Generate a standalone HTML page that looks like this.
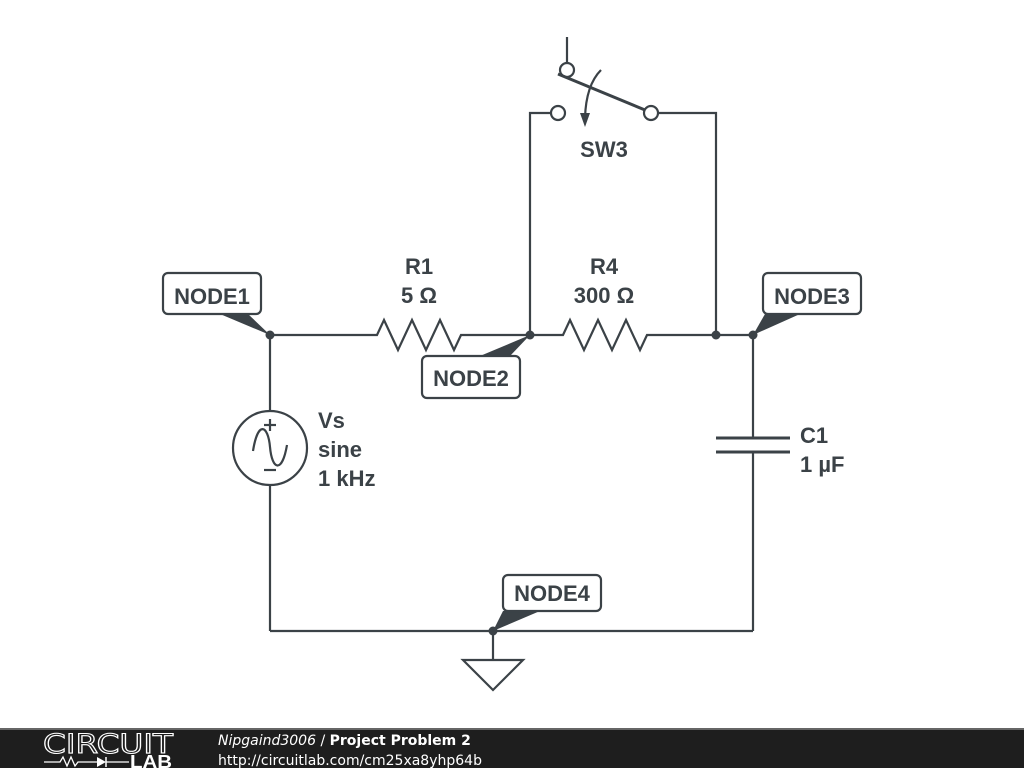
<!DOCTYPE html>
<html><head><meta charset="utf-8"><style>
html,body{margin:0;padding:0;background:#fff;width:1024px;height:768px;overflow:hidden}
svg{display:block}
.t{font-family:"Liberation Sans",sans-serif;font-weight:bold;fill:#3b4247}
.f{font-family:"DejaVu Sans","Liberation Sans",sans-serif;fill:#fff;font-size:14px}
</style></head><body>
<svg width="1024" height="768" viewBox="0 0 1024 768">
<g stroke="#3b4247" stroke-width="2.2" fill="none" stroke-linejoin="miter">
<polyline points="270,335 377,335 384,320 398,350 412,320 426,350 440,320 454,350 461,335 563,335 570,320 584,350 598,320 612,350 626,320 640,350 647,335 753,335"/>
<line x1="270" y1="335" x2="270" y2="411"/>
<line x1="270" y1="485" x2="270" y2="631"/>
<line x1="270" y1="631" x2="753" y2="631"/>
<line x1="753" y1="335" x2="753" y2="438"/>
<line x1="753" y1="452" x2="753" y2="631"/>
<line x1="716" y1="438" x2="790" y2="438" stroke-width="3"/>
<line x1="716" y1="452" x2="790" y2="452" stroke-width="3"/>
<circle cx="270" cy="448" r="37"/>
<line x1="264" y1="425" x2="276" y2="425"/><line x1="270" y1="419" x2="270" y2="431"/>
<line x1="264" y1="470" x2="276" y2="470"/>
<path d="M253,451 C258,420 268,425 270,447 C272,470 282,474 287,445"/>
<line x1="493" y1="631" x2="493" y2="660"/>
<polygon points="463,660 523,660 493,690"/>
<polyline points="530,335 530,113 551,113"/>
<circle cx="558" cy="113" r="7"/>
<circle cx="651" cy="113" r="7"/>
<polyline points="658,113 716,113 716,335"/>
<line x1="567" y1="37" x2="567" y2="63"/>
<circle cx="567" cy="70" r="7"/>
<line x1="558" y1="74" x2="645" y2="110" stroke-width="3"/>
<path d="M601,70 Q586,85 585,118"/>
</g>
<polygon points="580,113 590,113 585,127" fill="#3b4247"/>
<g fill="#3b4247">
<circle cx="270" cy="335" r="4.5"/><circle cx="530" cy="335" r="4.5"/>
<circle cx="716" cy="335" r="4.5"/><circle cx="753" cy="335" r="4.5"/>
<circle cx="493" cy="631" r="4.5"/>
<polygon points="220,314 248,314 270,335"/>
<polygon points="480,356 510,356 530,335"/>
<polygon points="765,314 800,314 753,335"/>
<polygon points="503,611 540,611 493,631"/>
</g>
<g fill="#fff" stroke="#3b4247" stroke-width="2.2">
<rect x="163" y="273" width="98" height="41" rx="5"/>
<rect x="422" y="356" width="98" height="42" rx="5"/>
<rect x="763" y="273" width="98" height="41" rx="5"/>
<rect x="503" y="575" width="98" height="36" rx="5"/>
</g>
<g class="t" font-size="22">
<text class="t" x="212" y="304" text-anchor="middle">NODE1</text>
<text class="t" x="471" y="386" text-anchor="middle">NODE2</text>
<text class="t" x="812" y="304" text-anchor="middle">NODE3</text>
<text class="t" x="552" y="601" text-anchor="middle">NODE4</text>
<text class="t" x="419" y="274" text-anchor="middle">R1</text>
<text class="t" x="419" y="303" text-anchor="middle">5 Ω</text>
<text class="t" x="604" y="274" text-anchor="middle">R4</text>
<text class="t" x="604" y="303" text-anchor="middle">300 Ω</text>
<text class="t" x="604" y="157" text-anchor="middle">SW3</text>
<text class="t" x="318" y="428">Vs</text>
<text class="t" x="318" y="457">sine</text>
<text class="t" x="318" y="486">1 kHz</text>
<text class="t" x="800" y="443">C1</text>
<text class="t" x="800" y="472">1 µF</text>
</g>
<rect x="0" y="729" width="1024" height="39" fill="#1e1e1e"/>
<rect x="0" y="728" width="1024" height="2" fill="#666"/>
<text x="43" y="753" style="font-family:'DejaVu Sans',sans-serif;font-size:27px;font-weight:normal;fill:none;stroke:#fff;stroke-width:1.1" textLength="130" lengthAdjust="spacingAndGlyphs">CIRCUIT</text>
<polyline points="44,762 60,762 63,757 67,766 71,757 75,766 78,762 97,762" stroke="#fff" fill="none" stroke-width="1.3"/>
<polygon points="97,757 97,767 106,762" fill="#fff"/>
<line x1="106" y1="757" x2="106" y2="767" stroke="#fff" stroke-width="1.5"/>
<line x1="106" y1="762" x2="129" y2="762" stroke="#fff" stroke-width="1.3"/>
<text x="130" y="768" style="font-family:'Liberation Sans',sans-serif;font-weight:bold;font-size:18px;fill:#fff" textLength="42" lengthAdjust="spacingAndGlyphs">LAB</text>
<text class="f" x="218" y="745"><tspan font-style="italic">Nipgaind3006</tspan> / <tspan font-weight="bold">Project Problem 2</tspan></text>
<text class="f" x="218" y="765">http://circuitlab.com/cm25xa8yhp64b</text>
</svg>
</body></html>
